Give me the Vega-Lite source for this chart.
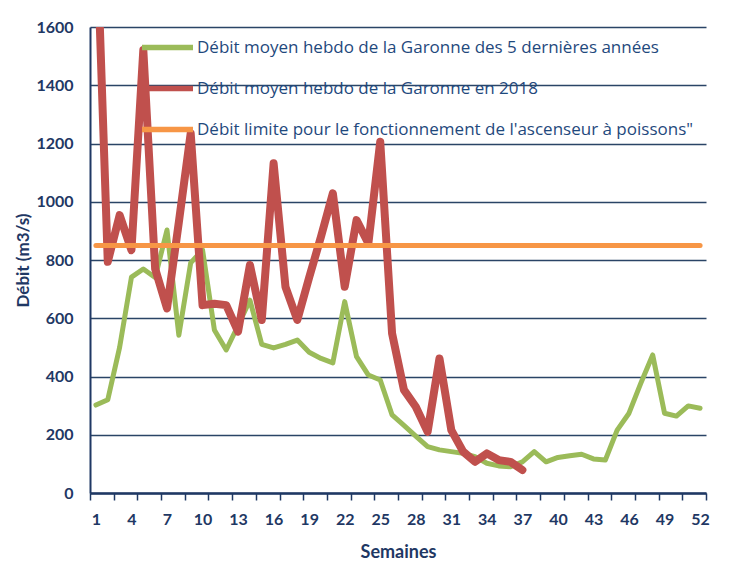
{
  "$schema": "https://vega.github.io/schema/vega-lite/v6.json",
  "width": 616,
  "height": 466,
  "autosize": {"type": "none"},
  "padding": {"left": 90, "top": 27, "right": 25, "bottom": 68},
  "background": "white",
  "config": {
    "view": {"stroke": null},
    "font": "Lato",
    "axis": {"labelFont": "Lato", "titleFont": "Lato"},
    "legend": {"labelFont": "Open Sans"}
  },
  "data": {
    "values": [
      {"s": "Débit moyen hebdo de la Garonne des 5 dernières années", "w": 1, "v": 302},
      {"s": "Débit moyen hebdo de la Garonne des 5 dernières années", "w": 2, "v": 320},
      {"s": "Débit moyen hebdo de la Garonne des 5 dernières années", "w": 3, "v": 500},
      {"s": "Débit moyen hebdo de la Garonne des 5 dernières années", "w": 4, "v": 741},
      {"s": "Débit moyen hebdo de la Garonne des 5 dernières années", "w": 5, "v": 769},
      {"s": "Débit moyen hebdo de la Garonne des 5 dernières années", "w": 6, "v": 740},
      {"s": "Débit moyen hebdo de la Garonne des 5 dernières années", "w": 7, "v": 903},
      {"s": "Débit moyen hebdo de la Garonne des 5 dernières années", "w": 8, "v": 542},
      {"s": "Débit moyen hebdo de la Garonne des 5 dernières années", "w": 9, "v": 790},
      {"s": "Débit moyen hebdo de la Garonne des 5 dernières années", "w": 10, "v": 835},
      {"s": "Débit moyen hebdo de la Garonne des 5 dernières années", "w": 11, "v": 560},
      {"s": "Débit moyen hebdo de la Garonne des 5 dernières années", "w": 12, "v": 491},
      {"s": "Débit moyen hebdo de la Garonne des 5 dernières années", "w": 13, "v": 575},
      {"s": "Débit moyen hebdo de la Garonne des 5 dernières années", "w": 14, "v": 662},
      {"s": "Débit moyen hebdo de la Garonne des 5 dernières années", "w": 15, "v": 510},
      {"s": "Débit moyen hebdo de la Garonne des 5 dernières années", "w": 16, "v": 498},
      {"s": "Débit moyen hebdo de la Garonne des 5 dernières années", "w": 17, "v": 510},
      {"s": "Débit moyen hebdo de la Garonne des 5 dernières années", "w": 18, "v": 525},
      {"s": "Débit moyen hebdo de la Garonne des 5 dernières années", "w": 19, "v": 483},
      {"s": "Débit moyen hebdo de la Garonne des 5 dernières années", "w": 20, "v": 462},
      {"s": "Débit moyen hebdo de la Garonne des 5 dernières années", "w": 21, "v": 447},
      {"s": "Débit moyen hebdo de la Garonne des 5 dernières années", "w": 22, "v": 657},
      {"s": "Débit moyen hebdo de la Garonne des 5 dernières années", "w": 23, "v": 468},
      {"s": "Débit moyen hebdo de la Garonne des 5 dernières années", "w": 24, "v": 405},
      {"s": "Débit moyen hebdo de la Garonne des 5 dernières années", "w": 25, "v": 388},
      {"s": "Débit moyen hebdo de la Garonne des 5 dernières années", "w": 26, "v": 268},
      {"s": "Débit moyen hebdo de la Garonne des 5 dernières années", "w": 27, "v": 232},
      {"s": "Débit moyen hebdo de la Garonne des 5 dernières années", "w": 28, "v": 195},
      {"s": "Débit moyen hebdo de la Garonne des 5 dernières années", "w": 29, "v": 159},
      {"s": "Débit moyen hebdo de la Garonne des 5 dernières années", "w": 30, "v": 148},
      {"s": "Débit moyen hebdo de la Garonne des 5 dernières années", "w": 31, "v": 142},
      {"s": "Débit moyen hebdo de la Garonne des 5 dernières années", "w": 32, "v": 136},
      {"s": "Débit moyen hebdo de la Garonne des 5 dernières années", "w": 33, "v": 125},
      {"s": "Débit moyen hebdo de la Garonne des 5 dernières années", "w": 34, "v": 102},
      {"s": "Débit moyen hebdo de la Garonne des 5 dernières années", "w": 35, "v": 93},
      {"s": "Débit moyen hebdo de la Garonne des 5 dernières années", "w": 36, "v": 90},
      {"s": "Débit moyen hebdo de la Garonne des 5 dernières années", "w": 37, "v": 107},
      {"s": "Débit moyen hebdo de la Garonne des 5 dernières années", "w": 38, "v": 142},
      {"s": "Débit moyen hebdo de la Garonne des 5 dernières années", "w": 39, "v": 107},
      {"s": "Débit moyen hebdo de la Garonne des 5 dernières années", "w": 40, "v": 122},
      {"s": "Débit moyen hebdo de la Garonne des 5 dernières années", "w": 41, "v": 128},
      {"s": "Débit moyen hebdo de la Garonne des 5 dernières années", "w": 42, "v": 133},
      {"s": "Débit moyen hebdo de la Garonne des 5 dernières années", "w": 43, "v": 117},
      {"s": "Débit moyen hebdo de la Garonne des 5 dernières années", "w": 44, "v": 113},
      {"s": "Débit moyen hebdo de la Garonne des 5 dernières années", "w": 45, "v": 216},
      {"s": "Débit moyen hebdo de la Garonne des 5 dernières années", "w": 46, "v": 274},
      {"s": "Débit moyen hebdo de la Garonne des 5 dernières années", "w": 47, "v": 377},
      {"s": "Débit moyen hebdo de la Garonne des 5 dernières années", "w": 48, "v": 474},
      {"s": "Débit moyen hebdo de la Garonne des 5 dernières années", "w": 49, "v": 274},
      {"s": "Débit moyen hebdo de la Garonne des 5 dernières années", "w": 50, "v": 264},
      {"s": "Débit moyen hebdo de la Garonne des 5 dernières années", "w": 51, "v": 299},
      {"s": "Débit moyen hebdo de la Garonne des 5 dernières années", "w": 52, "v": 291},
      {"s": "Débit moyen hebdo de la Garonne en 2018", "w": 1, "v": 2000},
      {"s": "Débit moyen hebdo de la Garonne en 2018", "w": 2, "v": 794},
      {"s": "Débit moyen hebdo de la Garonne en 2018", "w": 3, "v": 954},
      {"s": "Débit moyen hebdo de la Garonne en 2018", "w": 4, "v": 834},
      {"s": "Débit moyen hebdo de la Garonne en 2018", "w": 5, "v": 1521},
      {"s": "Débit moyen hebdo de la Garonne en 2018", "w": 6, "v": 770},
      {"s": "Débit moyen hebdo de la Garonne en 2018", "w": 7, "v": 634},
      {"s": "Débit moyen hebdo de la Garonne en 2018", "w": 8, "v": 930},
      {"s": "Débit moyen hebdo de la Garonne en 2018", "w": 9, "v": 1235},
      {"s": "Débit moyen hebdo de la Garonne en 2018", "w": 10, "v": 645},
      {"s": "Débit moyen hebdo de la Garonne en 2018", "w": 11, "v": 650},
      {"s": "Débit moyen hebdo de la Garonne en 2018", "w": 12, "v": 645},
      {"s": "Débit moyen hebdo de la Garonne en 2018", "w": 13, "v": 554},
      {"s": "Débit moyen hebdo de la Garonne en 2018", "w": 14, "v": 783},
      {"s": "Débit moyen hebdo de la Garonne en 2018", "w": 15, "v": 594},
      {"s": "Débit moyen hebdo de la Garonne en 2018", "w": 16, "v": 1132},
      {"s": "Débit moyen hebdo de la Garonne en 2018", "w": 17, "v": 708},
      {"s": "Débit moyen hebdo de la Garonne en 2018", "w": 18, "v": 594},
      {"s": "Débit moyen hebdo de la Garonne en 2018", "w": 19, "v": 740},
      {"s": "Débit moyen hebdo de la Garonne en 2018", "w": 20, "v": 880},
      {"s": "Débit moyen hebdo de la Garonne en 2018", "w": 21, "v": 1029},
      {"s": "Débit moyen hebdo de la Garonne en 2018", "w": 22, "v": 708},
      {"s": "Débit moyen hebdo de la Garonne en 2018", "w": 23, "v": 937},
      {"s": "Débit moyen hebdo de la Garonne en 2018", "w": 24, "v": 857},
      {"s": "Débit moyen hebdo de la Garonne en 2018", "w": 25, "v": 1206},
      {"s": "Débit moyen hebdo de la Garonne en 2018", "w": 26, "v": 548},
      {"s": "Débit moyen hebdo de la Garonne en 2018", "w": 27, "v": 354},
      {"s": "Débit moyen hebdo de la Garonne en 2018", "w": 28, "v": 296},
      {"s": "Débit moyen hebdo de la Garonne en 2018", "w": 29, "v": 210},
      {"s": "Débit moyen hebdo de la Garonne en 2018", "w": 30, "v": 462},
      {"s": "Débit moyen hebdo de la Garonne en 2018", "w": 31, "v": 216},
      {"s": "Débit moyen hebdo de la Garonne en 2018", "w": 32, "v": 142},
      {"s": "Débit moyen hebdo de la Garonne en 2018", "w": 33, "v": 107},
      {"s": "Débit moyen hebdo de la Garonne en 2018", "w": 34, "v": 136},
      {"s": "Débit moyen hebdo de la Garonne en 2018", "w": 35, "v": 113},
      {"s": "Débit moyen hebdo de la Garonne en 2018", "w": 36, "v": 107},
      {"s": "Débit moyen hebdo de la Garonne en 2018", "w": 37, "v": 79},
      {"s": "Débit limite pour le fonctionnement de l'ascenseur à poissons\"", "w": 1, "v": 850},
      {"s": "Débit limite pour le fonctionnement de l'ascenseur à poissons\"", "w": 52, "v": 850}
    ]
  },
  "encoding": {
    "x": {
      "field": "w",
      "type": "quantitative",
      "scale": {"domain": [0.5, 52.5], "nice": false, "zero": false},
      "axis": {
        "title": "Semaines",
        "titleFontSize": 18,
        "titleFontWeight": "bold",
        "titleColor": "#1f3864",
        "titlePadding": 16,
        "values": [0.5, 1, 2.5, 4, 4.5, 6.5, 7, 8.5, 10, 10.5, 12.5, 13, 14.5, 16, 16.5, 18.5, 19, 20.5, 22, 22.5, 24.5, 25, 26.5, 28, 28.5, 30.5, 31, 32.5, 34, 34.5, 36.5, 37, 38.5, 40, 40.5, 42.5, 43, 44.5, 46, 46.5, 48.5, 49, 50.5, 52, 52.5],
        "labelExpr": "datum.value % 1 === 0 ? datum.label : ''",
        "labelOverlap": false,
        "labelBound": false,
        "labelFlush": false,
        "labelFontSize": 16,
        "labelFontWeight": "bold",
        "labelColor": "#1f3864",
        "labelPadding": 11,
        "tickSize": 7,
        "tickWidth": 1.5,
        "tickColor": "#1f3864",
        "tickOpacity": {"condition": {"test": "datum.value % 2 === 0.5", "value": 1}, "value": 0},
        "domainColor": "#1f3864",
        "domainWidth": 2.5,
        "grid": false
      }
    },
    "y": {
      "field": "v",
      "type": "quantitative",
      "scale": {"domain": [0, 1600], "nice": false},
      "axis": {
        "title": "Débit (m3/s)",
        "titleFontSize": 17,
        "titleFontWeight": "bold",
        "titleColor": "#1f3864",
        "titlePadding": 3,
        "format": "d",
        "values": [0, 200, 400, 600, 800, 1000, 1200, 1400, 1600],
        "labelFontSize": 16,
        "labelFontWeight": "bold",
        "labelColor": "#1f3864",
        "labelPadding": 17,
        "ticks": false,
        "domainColor": "#1f3864",
        "domainWidth": 2,
        "grid": true,
        "gridColor": "#2a4466",
        "gridWidth": 1.6
      }
    },
    "color": {
      "field": "s",
      "type": "nominal",
      "scale": {
        "domain": [
          "Débit moyen hebdo de la Garonne des 5 dernières années",
          "Débit moyen hebdo de la Garonne en 2018",
          "Débit limite pour le fonctionnement de l'ascenseur à poissons\""
        ],
        "range": ["#9bbb59", "#c0504d", "#f79646"]
      },
      "legend": {
        "title": null,
        "orient": "none",
        "legendX": 49,
        "legendY": -8,
        "symbolType": "stroke",
        "symbolSize": 2601,
        "symbolStrokeWidth": 5.5,
        "labelFontSize": 17,
        "labelColor": "#1f497d",
        "labelOffset": 1,
        "labelLimit": 600,
        "rowPadding": 1
      }
    }
  },
  "layer": [
    {
      "transform": [{"filter": "datum.s === 'Débit moyen hebdo de la Garonne des 5 dernières années'"}],
      "mark": {"type": "line", "strokeWidth": 5, "strokeJoin": "round", "strokeCap": "round", "clip": true}
    },
    {
      "transform": [{"filter": "datum.s === 'Débit moyen hebdo de la Garonne en 2018'"}],
      "mark": {"type": "line", "strokeWidth": 8, "strokeJoin": "round", "strokeCap": "round", "clip": true}
    },
    {
      "transform": [{"filter": "datum.v === 850"}],
      "mark": {"type": "line", "strokeWidth": 5, "strokeCap": "round", "clip": true}
    }
  ]
}
